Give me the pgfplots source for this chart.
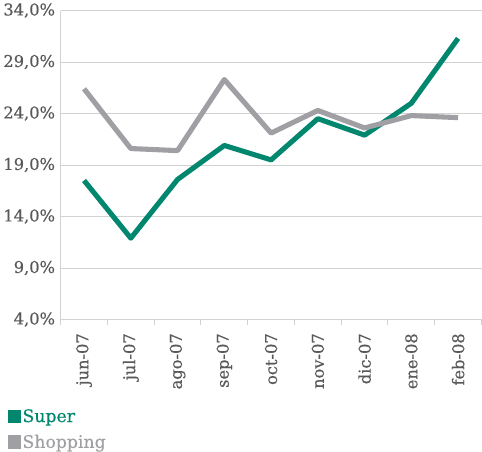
\documentclass[border=0pt]{standalone}
\usepackage{pgfplots}
\pgfplotsset{compat=1.18}
\usepackage{fontspec}
\setmainfont{DejaVu Serif}[FakeBold=0.4]
\definecolor{super}{RGB}{0,135,110}
\definecolor{shop}{RGB}{160,160,164}
\definecolor{lab}{RGB}{89,89,89}
\definecolor{grd}{RGB}{210,210,210}
\begin{document}
\begin{tikzpicture}
\begin{axis}[
  scale only axis, width=414pt, height=304pt,
  xmin=-0.5, xmax=8.5, ymin=4, ymax=34,
  axis x line*=bottom, axis y line*=left,
  axis line style={grd, line width=1pt, -},
  xtick={0,...,8},
  xticklabels={jun-07,jul-07,ago-07,sep-07,oct-07,nov-07,dic-07,ene-08,feb-08},
  x tick label style={rotate=90, anchor=east, font=\fontsize{16}{18}\selectfont, text=lab},
  minor xtick={-0.5,0.5,...,8.5},
  major tick length=0pt,
  minor tick length=5pt,
  tick style={grd, line width=1pt},
  xtick pos=bottom, ytick pos=left,
  tick align=outside,
  ytick={4,9,...,34},
  ymajorgrids, grid style={grd, line width=1pt},
  yticklabel={\pgfmathprintnumber[fixed,fixed zerofill,precision=1,use comma]{\tick}\%},
  /pgf/number format/assume math mode=true,
  y tick label style={font=\fontsize{16}{18}\selectfont, text=lab},
  xticklabel shift=10pt,
  yticklabel shift=2pt,
  legend style={at={(-0.125,-0.283)}, anchor=north west, draw=none, fill=none,
    font=\fontsize{17}{19}\selectfont, row sep=7pt, inner sep=0pt,
    legend cell align=left},
  legend image code/.code={\fill[#1, line width=0pt, sharp corners] (0pt,-6pt) rectangle (12pt,6pt);},
  every axis plot/.append style={line width=5pt, line join=round},
]
\addplot[super] coordinates {(0,17.5) (1,11.9) (2,17.6) (3,20.9) (4,19.5) (5,23.5) (6,21.9) (7,25.0) (8,31.3)};
\addlegendentry{\textcolor{super}{Super}}
\addplot[shop] coordinates {(0,26.4) (1,20.6) (2,20.4) (3,27.3) (4,22.1) (5,24.3) (6,22.6) (7,23.8) (8,23.6)};
\addlegendentry{\textcolor{shop}{Shopping}}
\end{axis}
\end{tikzpicture}
\end{document}
